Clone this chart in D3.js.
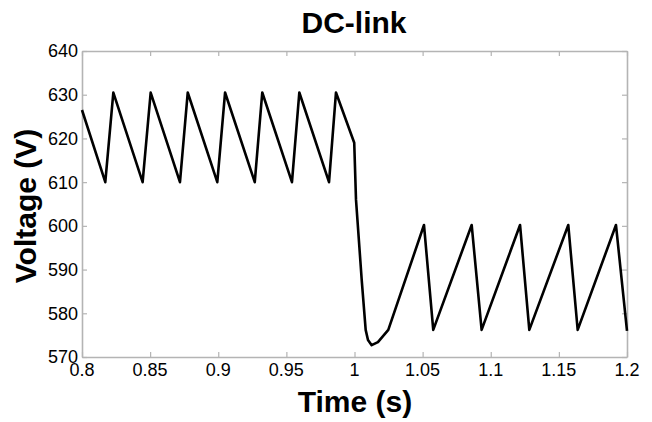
<!DOCTYPE html>
<html>
<head>
<meta charset="utf-8">
<script src="https://cdn.jsdelivr.net/npm/d3@7/dist/d3.min.js"></script>
<style>
  body { margin: 0; background: #fff; }
  svg { display: block; font-family: "Liberation Sans", Arial, sans-serif; }
  .tickLabel { font-size: 18px; fill: #000; }
  .axisTitle { font-size: 30px; font-weight: bold; fill: #000; }
</style>
</head>
<body>
<div id="chart"></div>
<script>

// DC-link voltage trace
const timeValues = [
    0.8, 0.8171, 0.8230, 0.8445, 0.8504, 0.8719, 0.8776, 0.8993, 0.9050,
    0.9268, 0.9323, 0.9541, 0.9595, 0.9813, 0.9864, 0.9998, 1.0011, 1.0053,
    1.0082, 1.0099, 1.0126, 1.0172, 1.0248, 1.0510, 1.0578, 1.0860, 1.0933,
    1.1215, 1.1283, 1.1569, 1.1638, 1.1919, 1.2
];
const voltageValues = [
    626.5, 610, 630.5, 610, 630.5, 610, 630.5, 610, 630.5,
    610, 630.5, 610, 630.5, 610, 630.5, 619, 606, 587.6,
    576.2, 573.9, 572.7, 573.4, 576.2, 600.2, 576.2, 600.2, 576.2,
    600.2, 576.2, 600.2, 576.2, 600.2, 576
];

const xTicks = [0.8, 0.85, 0.9, 0.95, 1, 1.05, 1.1, 1.15, 1.2];
const yTicks = [570, 580, 590, 600, 610, 620, 630, 640];

const chartTitle = "DC-link";
const xTitle = "Time (s)";
const yTitle = "Voltage (V)";

/**********************
***** BASIC SETUP *****
**********************/

const width = 652;
const height = 422;
const margin = {top: 51, left: 82, right: 25, bottom: 65};

const svg = d3.select("#chart").append("svg")
    .attr("width", width)
    .attr("height", height);

svg.append("rect")
    .attr("width", width)
    .attr("height", height)
    .attr("fill", "#fff");

const data = timeValues.map((t, i) => ({t: t, v: voltageValues[i]}));

/***********************
***** X & Y SCALES *****
***********************/

const xScale = d3.scaleLinear()
    .domain([0.8, 1.2])
    .range([margin.left, width - margin.right]);

const yScale = d3.scaleLinear()
    .domain([570, 640])
    .range([height - margin.bottom, margin.top]);

const axisColor = "#b4b4b4";
const tickLen = 5;

/*******************
***** AXES BOX *****
*******************/

// ticks pointing inwards on all four sides
function styleAxis(g) {
    g.select(".domain").attr("stroke", axisColor).attr("stroke-width", 1.6);
    g.selectAll(".tick line").attr("stroke", axisColor).attr("stroke-width", 1.2);
    g.selectAll(".tick text").remove();
}

svg.append("g")
    .attr("transform", `translate(0, ${yScale(570)})`)
    .call(d3.axisBottom(xScale).tickValues(xTicks).tickSize(-tickLen).tickSizeOuter(0))
    .call(styleAxis);

svg.append("g")
    .attr("transform", `translate(0, ${yScale(640)})`)
    .call(d3.axisTop(xScale).tickValues(xTicks).tickSize(-tickLen).tickSizeOuter(0))
    .call(styleAxis);

svg.append("g")
    .attr("transform", `translate(${xScale(0.8)}, 0)`)
    .call(d3.axisLeft(yScale).tickValues(yTicks).tickSize(-tickLen).tickSizeOuter(0))
    .call(styleAxis);

svg.append("g")
    .attr("transform", `translate(${xScale(1.2)}, 0)`)
    .call(d3.axisRight(yScale).tickValues(yTicks).tickSize(-tickLen).tickSizeOuter(0))
    .call(styleAxis);

/**********************
***** TICK LABELS *****
**********************/

svg.selectAll(".xLabel")
    .data(xTicks)
    .enter()
    .append("text")
    .attr("class", "tickLabel xLabel")
    .attr("x", d => xScale(d))
    .attr("y", yScale(570) + 19)
    .attr("text-anchor", "middle")
    .text(d => d3.format("")(d));

svg.selectAll(".yLabel")
    .data(yTicks)
    .enter()
    .append("text")
    .attr("class", "tickLabel yLabel")
    .attr("x", xScale(0.8) - 4)
    .attr("y", d => yScale(d))
    .attr("dy", "0.36em")
    .attr("text-anchor", "end")
    .text(d => d);

/***************
***** LINE *****
***************/

const line = d3.line()
    .x(d => xScale(d.t))
    .y(d => yScale(d.v));

svg.append("path")
    .datum(data)
    .attr("d", line)
    .attr("fill", "none")
    .attr("stroke", "#000")
    .attr("stroke-width", 2.6)
    .attr("stroke-linejoin", "round");

/*************************
***** TITLE, LABELS *****
*************************/

svg.append("text")
    .attr("class", "axisTitle")
    .attr("x", 354)
    .attr("y", 33)
    .attr("text-anchor", "middle")
    .text(chartTitle);

svg.append("text")
    .attr("class", "axisTitle")
    .attr("x", 355)
    .attr("y", 412)
    .attr("text-anchor", "middle")
    .text(xTitle);

svg.append("text")
    .attr("class", "axisTitle")
    .attr("transform", "translate(36, 206) rotate(-90)")
    .attr("text-anchor", "middle")
    .text(yTitle);

</script>
</body>
</html>
